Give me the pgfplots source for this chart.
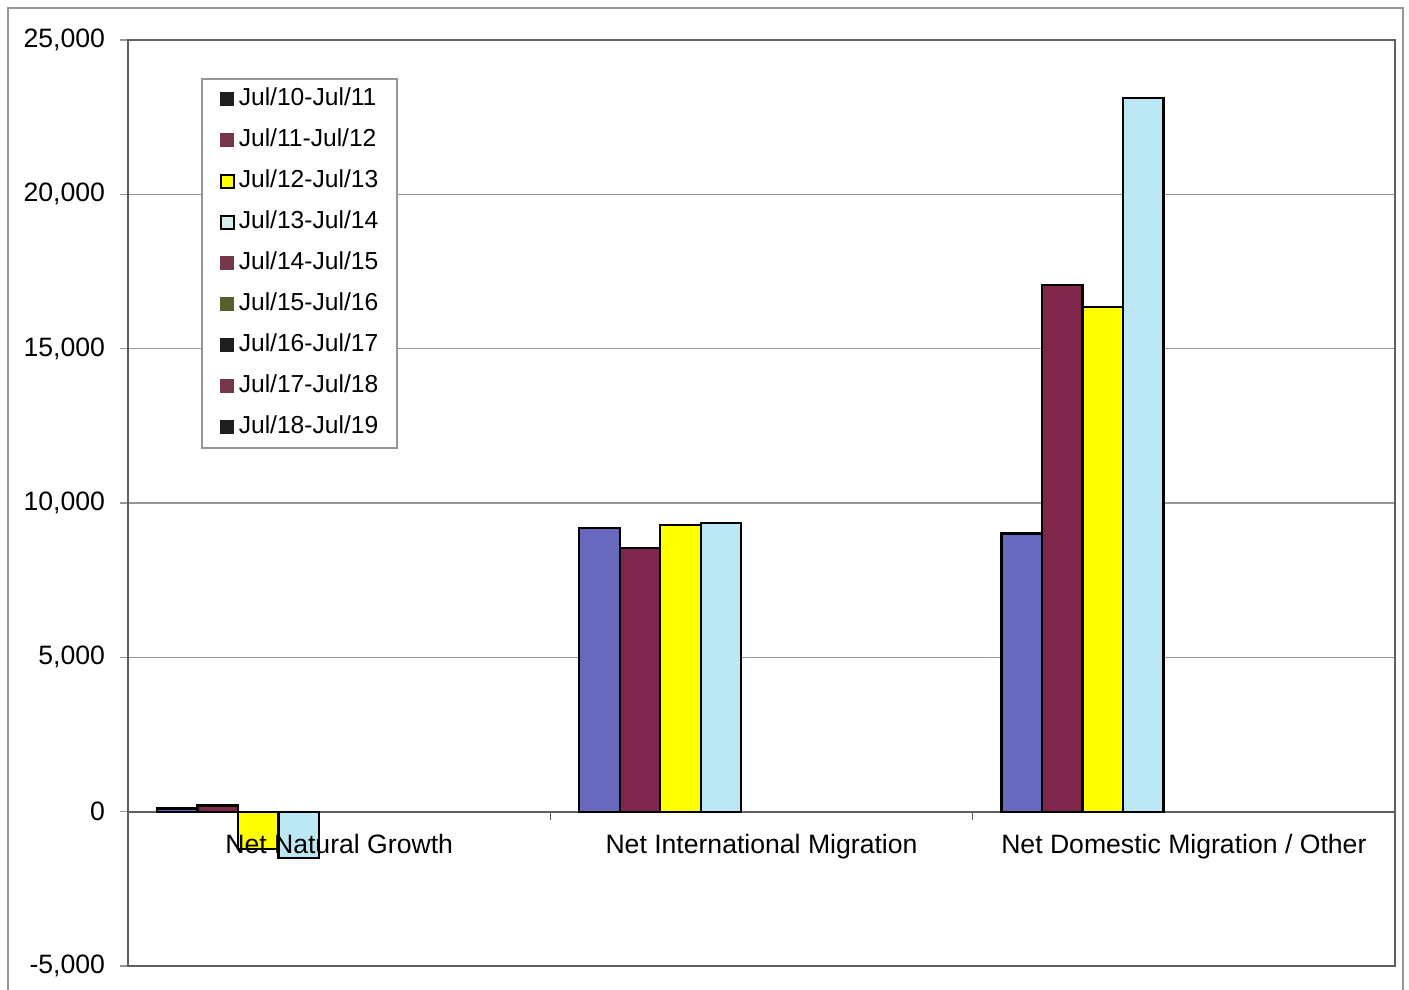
\documentclass[border=0pt]{standalone}
\usepackage{pgfplots}
\usepackage{pgfplotstable}
\pgfplotsset{compat=1.18}
\usepackage{fontspec}
\setmainfont{Liberation Sans}

\definecolor{sA}{RGB}{104,104,190}
\definecolor{sB}{RGB}{128,38,74}
\definecolor{sC}{RGB}{255,255,0}
\definecolor{sD}{RGB}{188,231,245}
\definecolor{lgBlack}{RGB}{30,30,30}
\definecolor{lgMaroon}{RGB}{118,56,72}
\definecolor{lgCyan}{RGB}{215,238,238}
\definecolor{lgOlive}{RGB}{86,96,40}
\definecolor{gridgray}{RGB}{150,150,150}
\definecolor{axgray}{RGB}{95,95,95}

\pgfplotstableread{
x y
0 100
1 9180
2 9010
}\dataA
\pgfplotstableread{
x y
0 200
1 8530
2 17050
}\dataB
\pgfplotstableread{
x y
0 -1200
1 9300
2 16340
}\dataC
\pgfplotstableread{
x y
0 -1510
1 9340
2 23120
}\dataD

\begin{document}
\begin{tikzpicture}
\begin{axis}[
  name=ax, at={(0,0)}, anchor=south west,
  scale only axis, width=633.5pt, height=463pt,
  clip=false,
  xmin=-0.5, xmax=2.5, ymin=-5000, ymax=25000,
  axis x line*=middle, axis y line*=left,
  hide obscured x ticks=false, hide obscured y ticks=false,
  axis line style={axgray, line width=0.9pt},
  ytick={-5000,0,5000,10000,15000,20000,25000},
  scaled y ticks=false,
  ymajorgrids, grid style={gridgray, line width=0.8pt},
  tick align=outside,
  major tick length=4pt,
  y tick style={gridgray, line width=0.8pt},
  x tick style={axgray, line width=0.8pt},
  xtick={0.5,1.5}, xticklabels={},
  tick label style={font=\fontsize{13.3}{15}\selectfont, black},
  yticklabel style={xshift=-4pt},
  /pgf/number format/assume math mode=true,
  /pgf/number format/1000 sep={,},
  legend cell align=left,
  legend image code/.code={\path (0pt,0pt); \draw[#1] (1.5pt,-3.25pt) rectangle (8pt,3.25pt);},
  legend style={at={(0.0576,0.959)}, anchor=north west, draw=gridgray, line width=0.8pt, fill=white,
    inner xsep=7.5pt, inner ysep=4.5pt, row sep=9pt,
    font=\fontsize{12.3}{14}\selectfont,
    nodes={inner sep=0pt, inner xsep=2pt, text height=9pt, text depth=2.5pt}},
]
\addplot[ybar, bar width=0.0959, bar shift=-0.3836, fill=sA, draw=black, line width=1.1pt, forget plot] table[x=x,y=y]{\dataA};
\addplot[ybar, bar width=0.0959, bar shift=-0.2877, fill=sB, draw=black, line width=1.1pt, forget plot] table[x=x,y=y]{\dataB};
\addplot[ybar, bar width=0.0959, bar shift=-0.1918, fill=sC, draw=black, line width=1.1pt, forget plot] table[x=x,y=y]{\dataC};
\addplot[ybar, bar width=0.0959, bar shift=-0.0959, fill=sD, draw=black, line width=1.1pt, forget plot] table[x=x,y=y]{\dataD};

\addlegendimage{fill=lgBlack, draw=lgBlack, line width=0.6pt}
\addlegendentry{Jul/10-Jul/11}
\addlegendimage{fill=lgMaroon, draw=lgMaroon, line width=0.6pt}
\addlegendentry{Jul/11-Jul/12}
\addlegendimage{fill=sC, draw=black, line width=1pt}
\addlegendentry{Jul/12-Jul/13}
\addlegendimage{fill=lgCyan, draw=black, line width=1pt}
\addlegendentry{Jul/13-Jul/14}
\addlegendimage{fill=lgMaroon, draw=lgMaroon, line width=0.6pt}
\addlegendentry{Jul/14-Jul/15}
\addlegendimage{fill=lgOlive, draw=lgOlive, line width=0.6pt}
\addlegendentry{Jul/15-Jul/16}
\addlegendimage{fill=lgBlack, draw=lgBlack, line width=0.6pt}
\addlegendentry{Jul/16-Jul/17}
\addlegendimage{fill=lgMaroon, draw=lgMaroon, line width=0.6pt}
\addlegendentry{Jul/17-Jul/18}
\addlegendimage{fill=lgBlack, draw=lgBlack, line width=0.6pt}
\addlegendentry{Jul/18-Jul/19}

\draw[axgray, line width=0.9pt] (rel axis cs:0,0) rectangle (rel axis cs:1,1);
\end{axis}
% overlay axis carrying the category labels, drawn above the bars
\begin{axis}[
  at={(0,0)}, anchor=south west,
  scale only axis, width=633.5pt, height=463pt,
  xmin=-0.5, xmax=2.5, ymin=-5000, ymax=25000,
  axis x line*=middle, axis y line=none,
  x axis line style={draw=none},
  hide obscured x ticks=false,
  xtick={0,1,2},
  xticklabels={Net Natural Growth, Net International Migration, Net Domestic Migration / Other},
  major tick length=0pt,
  x tick style={draw=none},
  xticklabel style={anchor=base, yshift=-21pt, font=\fontsize{13.3}{15}\selectfont, black},
]
\end{axis}
\draw[gridgray, line width=0.7pt] (-60pt,-12.5pt) rectangle (637.5pt,479pt);
\pgfresetboundingbox
\path[use as bounding box] (-64pt,-12pt) rectangle (640.5pt,483pt);
\end{tikzpicture}
\end{document}
